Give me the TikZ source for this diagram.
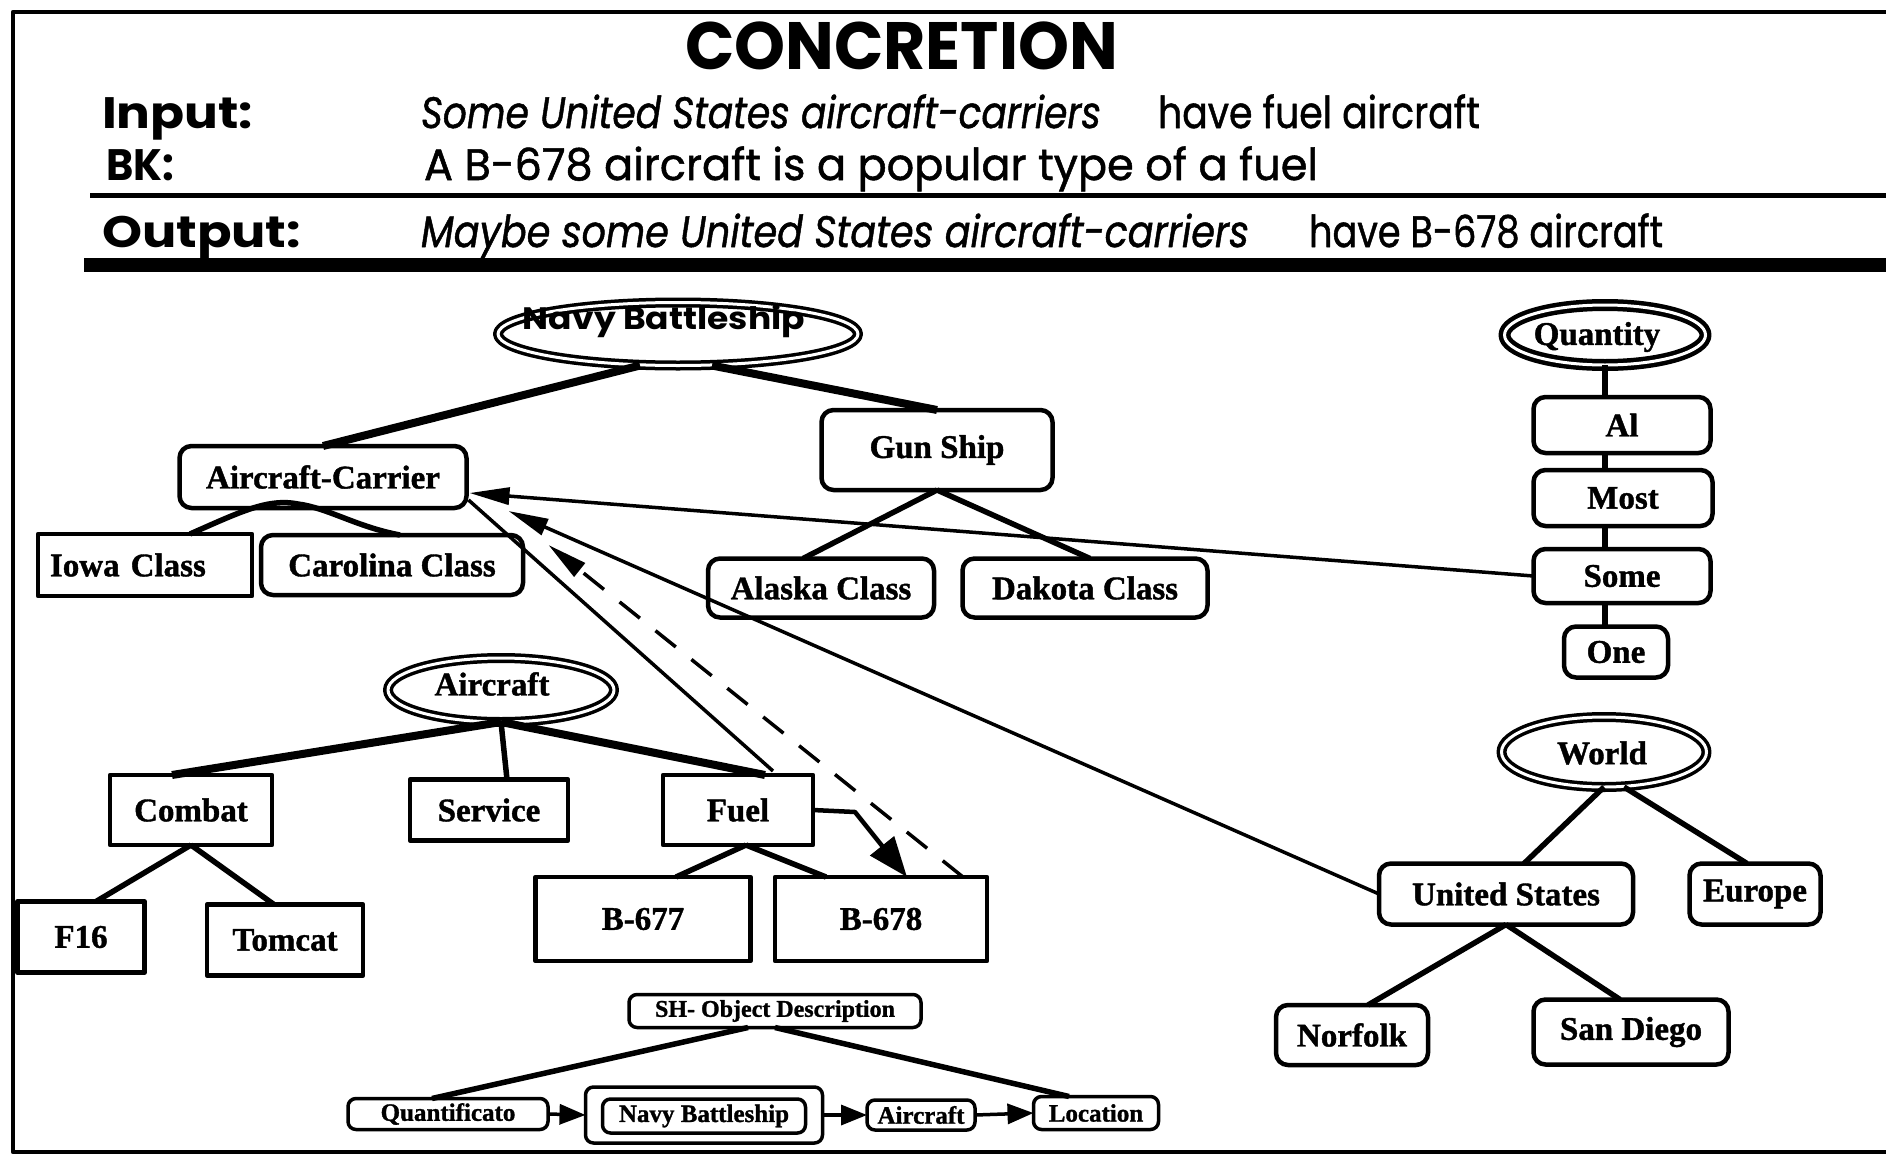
\documentclass[tikz,border=0pt]{standalone}
\usepackage{fontspec}
\usepackage{graphicx}
\setmainfont{Liberation Serif}[BoldFeatures={FakeBold=1.2}]
\newfontfamily\hdr{Poppins}
\newfontfamily\hdrm{Poppins}[FakeBold=1.2]
\usetikzlibrary{arrows.meta,calc,shapes.geometric}
\newcommand{\fitx}[2]{\resizebox{#1}{\height}{#2}}
\begin{document}
\begin{tikzpicture}[x=1pt,y=-1pt,line join=round,
  every node/.style={inner sep=0pt,outer sep=0pt},
  lbl/.style={font=\fontsize{33}{35}\selectfont\bfseries},
  smalllbl/.style={font=\fontsize{25}{27}\selectfont\bfseries},
  tinylbl/.style={font=\fontsize{24}{26}\selectfont\bfseries},
  sbox/.style={draw,line width=4.5pt},
  rbox/.style={draw,line width=4.5pt,rounded corners=12pt},
  minibox/.style={draw,line width=3.5pt,rounded corners=8pt},
  dell/.style={ellipse,draw,line width=3.5pt,double,double distance=3pt},
  conn/.style={line width=5.5pt},
  thickconn/.style={line width=8pt},
  bigarr/.style={line width=3.5pt,-{Triangle[length=40pt,width=17pt]}},
  miniarr/.style={line width=3.5pt,-{Triangle[length=26pt,width=20pt]}},
  hd/.style={anchor=base west,font=\hdrm\fontsize{44}{46}\selectfont},
  hdb/.style={anchor=base west,font=\hdr\bfseries\fontsize{44}{46}\selectfont},
  hdi/.style={anchor=base west,font=\hdrm\itshape\fontsize{44}{46}\selectfont},
]
\useasboundingbox (0,0) rectangle (1886,1156);
\fill[white] (0,0) rectangle (1886,1156);

% frame and rules
\coordinate (fTR) at (1886,12);
\coordinate (fTL) at (13,12);
\coordinate (fBL) at (13,1152);
\coordinate (fBR) at (1886,1152);
\draw[line width=4.5pt] (fTR) -- (fTL) -- (fBL) -- (fBR);
\coordinate (r1a) at (90,195);
\coordinate (r1b) at (1886,195);
\draw[line width=5pt] (r1a) -- (r1b);
\coordinate (r2a) at (84,265);
\coordinate (r2b) at (1886,265);
\draw[line width=14pt] (r2a) -- (r2b);

% header
\node[anchor=base west,font=\hdr\bfseries\fontsize{67}{70}\selectfont] (title) at (685,70) {\fitx{433pt}{CONCRETION}};
\node[hdb] (inl) at (102,128) {\fitx{151pt}{Input:}};
\node[hdi] (intx) at (421,128) {\fitx{680pt}{Some United States aircraft-carriers}};
\node[hd] (inh) at (1158,128) {\fitx{322pt}{have fuel aircraft}};
\node[hdb] (bkl) at (106,180) {\fitx{68pt}{BK:}};
\node[hd] (bkt) at (424,180) {\fitx{894pt}{A B-678 aircraft is a popular type of a fuel}};
\node[hdb] (outl) at (102,247) {\fitx{199pt}{Output:}};
\node[hdi] (outt) at (421,247) {\fitx{828pt}{Maybe some United States aircraft-carriers}};
\node[hd] (outh) at (1309,247) {\fitx{354pt}{have B-678 aircraft}};

% Navy battleship tree
\node[dell,minimum width=360pt,minimum height=63pt] (nb) at (678,334) {};
\node[anchor=base,font=\hdr\bfseries\fontsize{31}{33}\selectfont] (nbt) at (664,329) {\fitx{282pt}{Navy Battleship}};
\node[rbox,lbl,minimum width=287pt,minimum height=62pt] (ac) at (323,477) {Aircraft-Carrier};
\node[sbox,lbl,minimum width=214pt,minimum height=62pt,text width=190pt,align=left] (iowa) at (145,565) {Iowa Class};
\node[rbox,lbl,minimum width=262pt,minimum height=60pt] (carolina) at (392,565) {Carolina Class};
\node[rbox,lbl,minimum width=231pt,minimum height=80pt] (gun) at (937,450) {Gun Ship};
\node[rbox,lbl,minimum width=226pt,minimum height=59pt] (alaska) at (821,588) {Alaska Class};
\node[rbox,lbl,minimum width=245pt,minimum height=59pt] (dakota) at (1085,588) {Dakota Class};

\draw[thickconn] ($(nb.south)+(-38,0)$) -- (ac.north);
\draw[thickconn] ($(nb.south)+(34,0)$) -- (gun.north);
\draw[conn] ($(iowa.north)+(45,0)$) .. controls ($(iowa.north)+(95,-22)$) and ($(ac.south)+(-55,-10)$) .. ($(ac.south)+(-25,-4)$)
  .. controls ($(ac.south)+(5,0)$) and ($(carolina.north)+(-35,-8)$) .. ($(carolina.north)+(8,0)$);
\draw[conn] (gun.south) -- ($(alaska.north)+(-18,0)$);
\draw[conn] (gun.south) -- ($(dakota.north)+(5,0)$);

% Quantity
\node[dell,line width=4.5pt,minimum width=201pt,minimum height=60pt] (q) at (1605,335) {};
\node[lbl] (qt) at (1597,337) {Quantity};
\node[rbox,lbl,minimum width=177pt,minimum height=56pt] (al) at (1622,425) {Al};
\node[rbox,lbl,minimum width=179pt,minimum height=56pt] (most) at (1623,498) {Most};
\node[rbox,lbl,minimum width=177pt,minimum height=54pt] (some) at (1622,576) {Some};
\node[rbox,lbl,minimum width=104pt,minimum height=51pt] (one) at (1616,652) {One};
\draw[conn] (q.south) -- (q.south |- al.north);
\draw[conn] (al.south -| q.south) -- (q.south |- most.north);
\draw[conn] (most.south -| q.south) -- (q.south |- some.north);
\draw[conn] (some.south -| q.south) -- (q.south |- one.north);

% Aircraft tree
\node[dell,minimum width=226pt,minimum height=64pt] (air) at (501,690) {};
\node[lbl] (airt) at (492,684) {Aircraft};
\node[sbox,lbl,minimum width=162pt,minimum height=70pt] (combat) at (191,810) {Combat};
\node[sbox,lbl,minimum width=158pt,minimum height=61pt] (service) at (489,810) {Service};
\node[sbox,lbl,minimum width=150pt,minimum height=70pt] (fuel) at (738,810) {Fuel};
\node[sbox,lbl,minimum width=127pt,minimum height=71pt] (f16) at (81,937) {F16};
\node[sbox,lbl,minimum width=156pt,minimum height=71pt] (tomcat) at (285,940) {Tomcat};
\node[sbox,lbl,minimum width=215pt,minimum height=84pt] (b677) at (643,919) {B-677};
\node[sbox,lbl,minimum width=212pt,minimum height=84pt] (b678) at (881,919) {B-678};
\draw[thickconn] (air.south) -- ($(combat.north)+(-19,0)$);
\draw[conn] (air.south) -- ($(service.north)+(18,0)$);
\draw[thickconn] (air.south) -- ($(fuel.north)+(27,0)$);
\draw[conn] (combat.south) -- ($(f16.north)+(15,0)$);
\draw[conn] (combat.south) -- ($(tomcat.north)+(-11,0)$);
\draw[conn] ($(fuel.south)+(8,0)$) -- ($(b677.north)+(33,0)$);
\draw[conn] ($(fuel.south)+(8,0)$) -- ($(b678.north)+(-55,0)$);

% World tree
\node[dell,minimum width=205pt,minimum height=70pt] (world) at (1604,752) {};
\node[lbl] (worldt) at (1602,753) {World};
\node[rbox,lbl,minimum width=254pt,minimum height=61pt] (us) at (1506,894) {United States};
\node[rbox,lbl,minimum width=131pt,minimum height=61pt] (europe) at (1755,894) {Europe};
\node[rbox,lbl,minimum width=152pt,minimum height=60pt] (norfolk) at (1352,1035) {Norfolk};
\node[rbox,lbl,minimum width=195pt,minimum height=65pt] (sandiego) at (1631,1032) {San Diego};
\draw[conn] (world.south) -- ($(us.north)+(18,0)$);
\draw[conn] ($(world.south)+(20,0)$) -- ($(europe.north)+(-8,0)$);
\draw[conn] (us.south) -- ($(norfolk.north)+(16,0)$);
\draw[conn] (us.south) -- ($(sandiego.north)+(-11,0)$);

% SH object description
\node[minibox,tinylbl,minimum width=292pt,minimum height=33pt] (sh) at (775,1011) {SH- Object Description};
\node[minibox,smalllbl,minimum width=200pt,minimum height=31pt] (quant) at (448,1114) {Quantificato};
\node[minibox,minimum width=237pt,minimum height=56pt] (nbb) at (704,1115) {};
\node[minibox,smalllbl,minimum width=203pt,minimum height=34pt] (nbbi) at (704,1116) {Navy Battleship};
\node[minibox,smalllbl,minimum width=108pt,minimum height=30pt] (airb) at (921,1115) {Aircraft};
\node[minibox,smalllbl,minimum width=125pt,minimum height=33pt] (loc) at (1096,1113) {Location};
\draw[conn] ($(sh.south)+(-27,0)$) -- ($(quant.north)+(-16,0)$);
\draw[conn] (sh.south) -- ($(loc.north)+(-27,0)$);
\draw[miniarr] (quant.east) -- (nbb.west);
\draw[miniarr] (nbb.east) -- (airb.west);
\draw[miniarr] (airb.east) -- (loc.west);

% cross links
\draw[bigarr] (some.west) -- ($(ac.south east)+(3,-15)$);
\draw[bigarr] (us.west) -- ($(ac.south east)+(42,3)$);
\draw[line width=3.5pt] ($(fuel.north east)+(-40,-4)$) -- ($(ac.south east)+(2,-8)$);
\draw[bigarr,dashed,dash pattern=on 26pt off 20pt] ($(b678.north east)+(-24,0)$) -- ($(ac.south east)+(82,37)$);
\coordinate (fk) at ($(fuel.east)+(42,2)$);
\draw[line width=4.5pt,-{Triangle[length=40pt,width=30pt]}] (fuel.east) -- (fk) -- ($(b678.north)+(26,0)$);
\end{tikzpicture}
\end{document}
